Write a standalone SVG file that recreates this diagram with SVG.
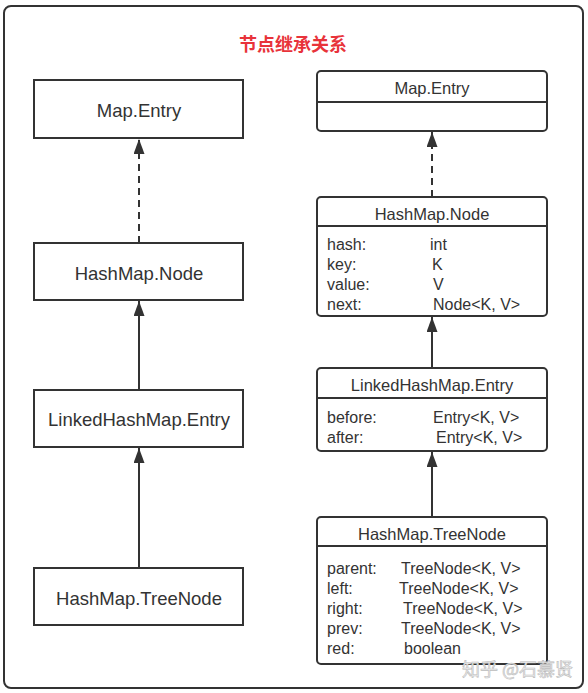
<svg xmlns="http://www.w3.org/2000/svg" width="588" height="693" viewBox="0 0 588 693">
<defs>
<style>
.frame{fill:#fff;stroke:#333;stroke-width:2}
.box{fill:#fff;stroke:#333;stroke-width:2}
.div{stroke:#333;stroke-width:2}
.big{font-family:"Liberation Sans",Arial,sans-serif;font-size:18.5px;fill:#333;text-anchor:middle}
.ttl{font-family:"Liberation Sans",Arial,sans-serif;font-size:16.5px;fill:#333;text-anchor:middle}
.fld{font-family:"Liberation Sans",Arial,sans-serif;font-size:16px;fill:#333}
.title{font-family:"Noto Sans CJK SC",sans-serif;font-size:18px;font-weight:bold;fill:#e8333a;text-anchor:middle}
.wm{font-family:"Noto Sans CJK SC",sans-serif;font-size:18px;fill:#ededed;stroke:#bdbdbd;stroke-width:0.6}
.conn{fill:none;stroke:#333;stroke-width:2}
.dash{stroke-dasharray:7,5}
</style>
<marker id="tri" viewBox="0 0 15 11" refX="15" refY="5.5" markerWidth="15" markerHeight="11" markerUnits="userSpaceOnUse" orient="auto">
<path d="M0,0 L15,5.5 L0,11 Z" fill="#333"/>
</marker>
</defs>
<rect width="588" height="693" fill="#fff"/>
<rect class="frame" x="4" y="6" width="579" height="682" rx="7"/>
<text class="title" x="293" y="51">节点继承关系</text>

<g id="connectors">
<line class="conn dash" x1="139" y1="243" x2="139" y2="139" marker-end="url(#tri)"/>
<line class="conn" x1="139" y1="390" x2="139" y2="301" marker-end="url(#tri)"/>
<line class="conn" x1="139" y1="568" x2="139" y2="448" marker-end="url(#tri)"/>
<line class="conn dash" x1="432" y1="197" x2="432" y2="132" marker-end="url(#tri)"/>
<line class="conn" x1="432" y1="368" x2="432" y2="317" marker-end="url(#tri)"/>
<line class="conn" x1="432" y1="517" x2="432" y2="452" marker-end="url(#tri)"/>
</g>

<g id="l-mapentry">
<rect class="box" x="34" y="80" width="209" height="58"/>
<text class="big" x="139" y="117">Map.Entry</text>
</g>
<g id="l-hashmapnode">
<rect class="box" x="34" y="243" width="209" height="57"/>
<text class="big" x="139" y="280">HashMap.Node</text>
</g>
<g id="l-linkedentry">
<rect class="box" x="34" y="390" width="209" height="57"/>
<text class="big" x="139" y="426">LinkedHashMap.Entry</text>
</g>
<g id="l-treenode">
<rect class="box" x="34" y="568" width="209" height="57"/>
<text class="big" x="139" y="605">HashMap.TreeNode</text>
</g>

<g id="r-mapentry">
<rect class="box" x="317" y="71" width="230" height="60" rx="4"/>
<line class="div" x1="317" y1="102" x2="547" y2="102"/>
<text class="ttl" x="432" y="94">Map.Entry</text>
</g>
<g id="r-hashmapnode">
<rect class="box" x="317" y="197" width="230" height="119" rx="4"/>
<line class="div" x1="317" y1="226" x2="547" y2="226"/>
<text class="ttl" x="432" y="220">HashMap.Node</text>
<text class="fld" x="327" y="250">hash:</text><text class="fld" x="430" y="250">int</text>
<text class="fld" x="327" y="270">key:</text><text class="fld" x="432" y="270">K</text>
<text class="fld" x="327" y="290">value:</text><text class="fld" x="433" y="290">V</text>
<text class="fld" x="327" y="310">next:</text><text class="fld" x="433" y="310">Node&lt;K, V&gt;</text>
</g>
<g id="r-linkedentry">
<rect class="box" x="317" y="368" width="230" height="83" rx="4"/>
<line class="div" x1="317" y1="398" x2="547" y2="398"/>
<text class="ttl" x="432" y="391">LinkedHashMap.Entry</text>
<text class="fld" x="327" y="423">before:</text><text class="fld" x="433" y="423">Entry&lt;K, V&gt;</text>
<text class="fld" x="327" y="443">after:</text><text class="fld" x="436" y="443">Entry&lt;K, V&gt;</text>
</g>
<g id="r-treenode">
<rect class="box" x="317" y="517" width="230" height="147" rx="4"/>
<line class="div" x1="317" y1="546" x2="547" y2="546"/>
<text class="ttl" x="432" y="540">HashMap.TreeNode</text>
<text class="fld" x="327" y="574">parent:</text><text class="fld" x="401" y="574">TreeNode&lt;K, V&gt;</text>
<text class="fld" x="327" y="594">left:</text><text class="fld" x="399" y="594">TreeNode&lt;K, V&gt;</text>
<text class="fld" x="327" y="614">right:</text><text class="fld" x="403" y="614">TreeNode&lt;K, V&gt;</text>
<text class="fld" x="327" y="634">prev:</text><text class="fld" x="401" y="634">TreeNode&lt;K, V&gt;</text>
<text class="fld" x="327" y="654">red:</text><text class="fld" x="404" y="654">boolean</text>
</g>
<text class="wm" x="462" y="676">知乎 @石慕贤</text>
</svg>
